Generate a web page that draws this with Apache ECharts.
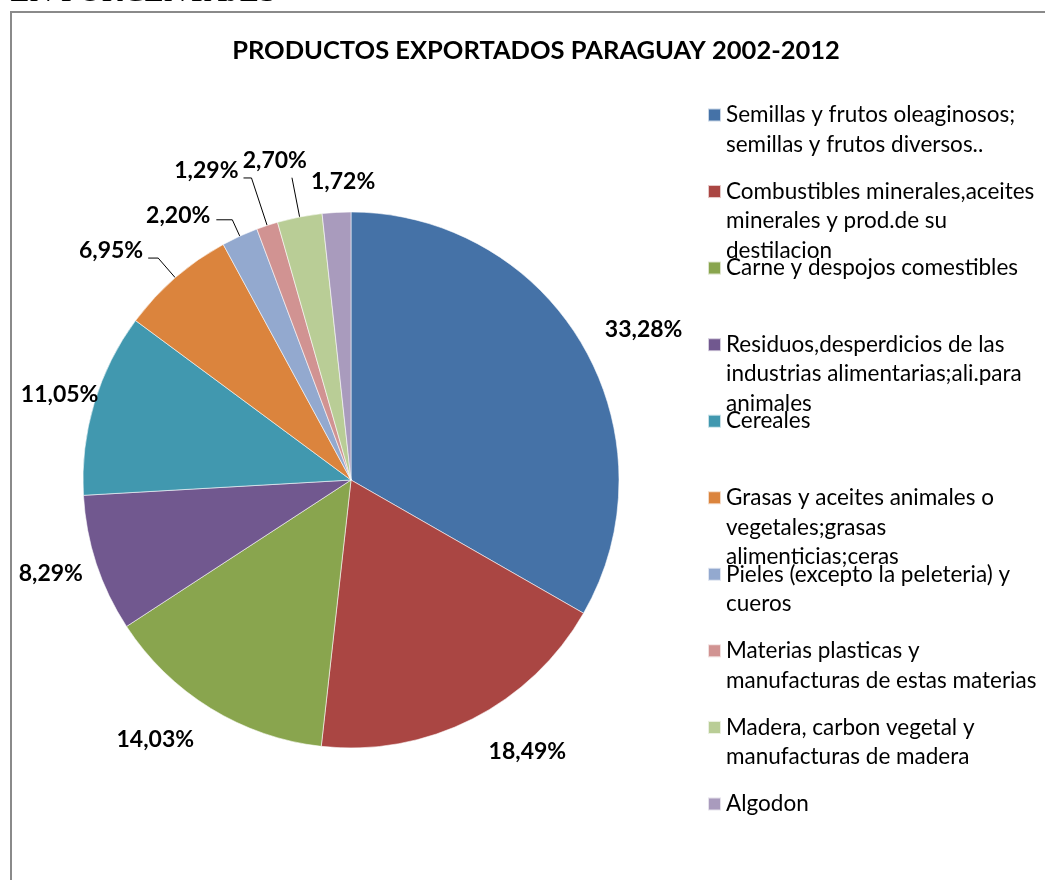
<!DOCTYPE html>
<html>
<head>
<meta charset="utf-8">
<script src="https://cdn.jsdelivr.net/npm/echarts@6/dist/echarts.min.js"></script>
<style>
  html, body { margin: 0; padding: 0; background: #ffffff; }
  #chart { width: 1045px; height: 880px; }
</style>
</head>
<body>
<div id="chart"></div>
<script>
// Export shares by product group, 2002-2012 (percent of total)
const categories = [
  'Semillas y frutos oleaginosos; semillas y frutos diversos..',
  'Combustibles minerales,aceites minerales y prod.de su destilacion',
  'Carne y despojos comestibles',
  'Residuos,desperdicios de las industrias alimentarias;ali.para animales',
  'Cereales',
  'Grasas y aceites animales o vegetales;grasas alimenticias;ceras',
  'Pieles (excepto la peleteria) y cueros',
  'Materias plasticas y manufacturas de estas materias',
  'Madera, carbon vegetal y manufacturas de madera',
  'Algodon'
];
const shares = [33.28, 18.49, 14.03, 8.29, 11.05, 6.95, 2.20, 1.29, 2.70, 1.72];

// Wrapped legend text, one entry per category
const legendLines = [
  ['Semillas y frutos oleaginosos;', 'semillas y frutos diversos..'],
  ['Combustibles minerales,aceites', 'minerales y prod.de su', 'destilacion'],
  ['Carne y despojos comestibles'],
  ['Residuos,desperdicios de las', 'industrias alimentarias;ali.para', 'animales'],
  ['Cereales'],
  ['Grasas y aceites animales o', 'vegetales;grasas', 'alimenticias;ceras'],
  ['Pieles (excepto la peleteria) y', 'cueros'],
  ['Materias plasticas y', 'manufacturas de estas materias'],
  ['Madera, carbon vegetal y', 'manufacturas de madera'],
  ['Algodon']
];

const palette = ['#4572A7', '#AA4643', '#89A54E', '#71588F', '#4198AF',
                 '#DB843D', '#93A9CF', '#D19392', '#B9CD96', '#A99BBD'];

// Label placement per slice: leader length, leader length2, gap to leader,
// whether the leader is drawn, and a vertical shift (px, positive = up)
const labelPlacement = [
  { len: 30, len2: 0,  gap: -4,  line: false, lift: 1 },
  { len: 36, len2: 0,  gap: 0,   line: false, lift: 0 },
  { len: 37, len2: 0,  gap: -3,  line: false, lift: 0 },
  { len: 10, len2: 0,  gap: 4,   line: false, lift: -7 },
  { len: 30, len2: 0,  gap: -33, line: false, lift: 0 },
  { len: 26, len2: 10, gap: 5,   line: true,  lift: 7 },
  { len: 18, len2: 16, gap: 6,   line: true,  lift: 4 },
  { len: 50, len2: 8,  gap: 5,   line: true,  lift: 7 },
  { len: 40, len2: 0,  gap: -15, line: true,  lift: 17 },
  { len: 24, len2: 0,  gap: -40, line: false, lift: 7 }
];

const FONT = 'Lato, "Open Sans", sans-serif';
const LEGEND_LINE = 29.5;
const LEGEND_FIRST = 115;
const LEGEND_PITCH = 76.55;

function pct(v) {
  return v.toFixed(2).replace('.', ',') + '%';
}

const seriesData = shares.map(function (v, i) {
  const p = labelPlacement[i];
  return {
    name: categories[i],
    value: v,
    itemStyle: { color: palette[i] },
    label: { distanceToLabelLine: p.gap },
    labelLine: { show: p.line, length: p.len, length2: p.len2 }
  };
});

// One legend block per category so each keeps a fixed slot; leading blank
// lines keep the swatch level with the first text line
const legends = categories.map(function (name, i) {
  const n = legendLines[i].length;
  const y = LEGEND_FIRST + i * LEGEND_PITCH;
  const text = new Array(n).join('\n') + legendLines[i].join('\n');
  return {
    data: [name],
    orient: 'vertical',
    left: 707,
    top: y - (2 * n - 1) * LEGEND_LINE / 2,
    padding: 0,
    icon: 'rect',
    itemWidth: 13,
    itemHeight: 13,
    selectedMode: false,
    formatter: function () { return text; },
    textStyle: {
      fontFamily: FONT,
      fontSize: 22.5,
      color: '#000000',
      lineHeight: LEGEND_LINE
    }
  };
});

const chart = echarts.init(document.getElementById('chart'), null, { renderer: 'canvas' });

chart.setOption({
  animation: false,
  backgroundColor: '#ffffff',
  title: {
    text: 'PRODUCTOS EXPORTADOS PARAGUAY 2002-2012',
    left: 536,
    textAlign: 'center',
    top: 38,
    padding: 0,
    textStyle: {
      fontFamily: FONT,
      fontSize: 25.5,
      fontWeight: 'bold',
      color: '#000000'
    }
  },
  legend: legends,
  graphic: [
    {
      type: 'rect',
      shape: { x: 11, y: 12, width: 1060, height: 900 },
      style: { fill: 'none', stroke: '#8a8a8a', lineWidth: 2 },
      silent: true,
      z: -1
    },
    {
      type: 'text',
      left: 10,
      top: -23,
      style: {
        text: 'EN PORCENTAJES',
        font: '32px "Liberation Serif", "Times New Roman", serif',
        fill: '#000000'
      },
      silent: true
    }
  ],
  series: [
    {
      type: 'pie',
      center: [351, 480],
      radius: 268,
      startAngle: 90,
      clockwise: true,
      avoidLabelOverlap: false,
      silent: true,
      emphasis: { disabled: true },
      itemStyle: { borderColor: 'rgba(255,255,255,0.7)', borderWidth: 0.8 },
      label: {
        show: true,
        position: 'outside',
        formatter: function (p) { return pct(p.value); },
        fontFamily: FONT,
        fontSize: 23,
        fontWeight: 'bold',
        color: '#000000'
      },
      labelLine: {
        lineStyle: { color: '#000000', width: 1 }
      },
      labelLayout: function (params) {
        return {
          dy: -labelPlacement[params.dataIndex].lift,
          labelLinePoints: params.labelLinePoints
        };
      },
      data: seriesData
    }
  ]
});
</script>
</body>
</html>
